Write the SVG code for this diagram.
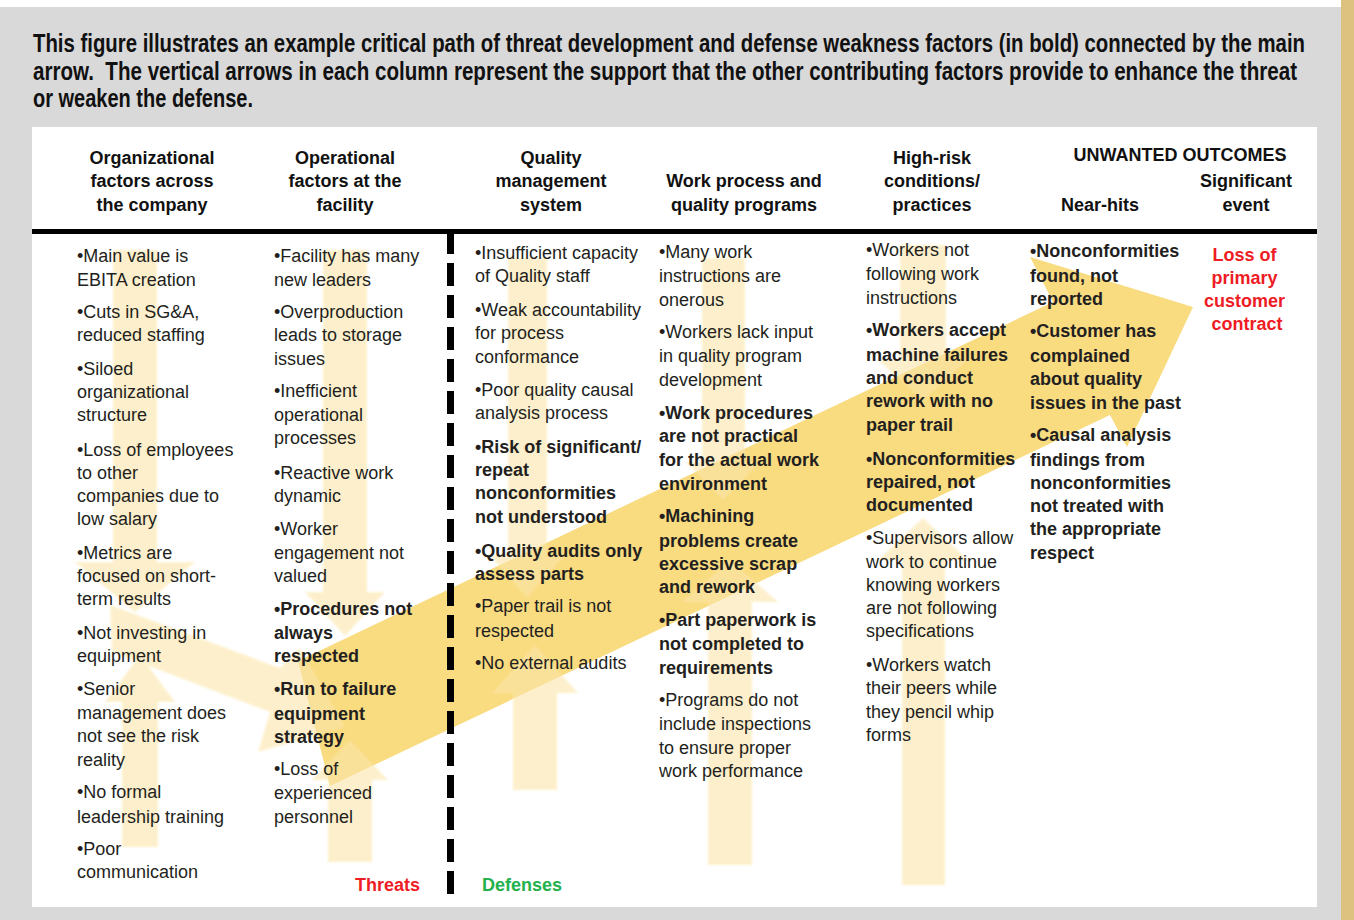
<svg xmlns="http://www.w3.org/2000/svg" width="1354" height="920" viewBox="0 0 1354 920">
  <defs>
    <style>
      .cap { font-family: "Liberation Sans", Arial, sans-serif; font-weight: bold; font-size: 25px; fill: #111; }
      .hd { font-family: "Liberation Sans", Arial, sans-serif; font-weight: bold; font-size: 18px; fill: #111; text-anchor: middle; }
      .t { font-family: "Liberation Sans", Arial, sans-serif; font-size: 18px; fill: #231f20; }
      .b { font-weight: bold; }
      .red { fill: #ee1c25; font-weight: bold; }
      .grn { fill: #22b14c; font-weight: bold; }
      .main { fill: #f9db80; }
      .sup { fill: #fce6aa; }
    </style>
    <filter id="soft" x="-5%" y="-5%" width="110%" height="110%">
      <feGaussianBlur stdDeviation="1.3"/>
    </filter>
  </defs>

  <!-- page background -->
  <rect x="0" y="0" width="1354" height="920" fill="#ffffff"/>
  <rect x="0" y="7" width="1341" height="913" fill="#d9d9d9"/>
  <rect x="1341" y="0" width="13" height="920" fill="#ddc17f"/>

  <!-- caption, set in a condensed bold by horizontal scaling -->
  <g id="caption" transform="translate(33 0) scale(0.8 1)">
    <text class="cap" x="0" y="52" textLength="1590" lengthAdjust="spacingAndGlyphs">This figure illustrates an example critical path of threat development and defense weakness factors (in bold) connected by the main</text>
    <text class="cap" x="0" y="80" textLength="1580" lengthAdjust="spacingAndGlyphs">arrow.&#160; The vertical arrows in each column represent the support that the other contributing factors provide to enhance the threat</text>
    <text class="cap" x="0" y="107" textLength="275" lengthAdjust="spacingAndGlyphs">or weaken the defense.</text>
  </g>

  <!-- chart panel -->
  <rect id="panel" x="32" y="127" width="1285" height="780" fill="#ffffff"/>

  <!-- connectors: main critical path and supporting arrows -->
  <g id="connectors">
    <polygon id="main-arrow" class="main" points="298,661 1053,302 1030,257 1193,307 1127,447 1110,415 330,786"/>
    <g id="support-arrows" opacity="0.6" filter="url(#soft)">
      <!-- organizational column -->
      <polygon class="sup" points="113,250 157,250 157,562 195,562 135,612 75,562 113,562"/>
      <polygon class="sup" points="122,847 158,847 158,702 175,702 140,655 105,702 122,702"/>
      <polygon class="sup" points="110,605 280,668 300,648 345,727 258,752 270,712 112,652"/>
      <!-- operational column -->
      <polygon class="sup" points="323,250 367,250 367,592 385,592 345,636 305,592 323,592"/>
      <polygon class="sup" points="328,862 372,862 372,780 388,780 350,740 312,780 328,780"/>
      <!-- quality management column -->
      <polygon class="sup" points="508,258 547,258 547,555 565,555 527,598 490,555 508,555"/>
      <polygon class="sup" points="513,790 557,790 557,693 578,693 535,645 492,693 513,693"/>
      <!-- work process column -->
      <polygon class="sup" points="702,258 745,258 745,462 760,462 723,500 686,462 702,462"/>
      <polygon class="sup" points="708,865 752,865 752,602 778,602 730,560 682,602 708,602"/>
      <!-- high-risk column -->
      <polygon class="sup" points="900,245 946,245 946,360 968,360 923,400 878,360 900,360"/>
      <polygon class="sup" points="902,885 945,885 945,560 968,560 923,518 878,560 902,560"/>
    </g>
  </g>

  <!-- header rule and threat/defense divider -->
  <rect x="32" y="229" width="1285" height="5" fill="#000"/>
  <line x1="450.5" y1="231" x2="450.5" y2="898" stroke="#000" stroke-width="7" stroke-dasharray="23 9"/>

  <!-- column headers -->
  <g id="headers">
    <text class="hd"><tspan x="152" y="164">Organizational</tspan><tspan x="152" y="187">factors across</tspan><tspan x="152" y="211">the company</tspan></text>
    <text class="hd"><tspan x="345" y="164">Operational</tspan><tspan x="345" y="187">factors at the</tspan><tspan x="345" y="211">facility</tspan></text>
    <text class="hd"><tspan x="551" y="164">Quality</tspan><tspan x="551" y="187">management</tspan><tspan x="551" y="211">system</tspan></text>
    <text class="hd"><tspan x="744" y="187">Work process and</tspan><tspan x="744" y="211">quality programs</tspan></text>
    <text class="hd"><tspan x="932" y="164">High-risk</tspan><tspan x="932" y="187">conditions/</tspan><tspan x="932" y="211">practices</tspan></text>
    <text class="hd" x="1180" y="161">UNWANTED OUTCOMES</text>
    <text class="hd" x="1100" y="211">Near-hits</text>
    <text class="hd"><tspan x="1246" y="187">Significant</tspan><tspan x="1246" y="211">event</tspan></text>
  </g>

  <g id="col-organizational">
    <text class="t">
      <tspan x="77" y="262">•Main value is</tspan>
      <tspan x="77" y="286">EBITA creation</tspan>
      <tspan x="77" y="318">•Cuts in SG&amp;A,</tspan>
      <tspan x="77" y="341">reduced staffing</tspan>
      <tspan x="77" y="375">•Siloed</tspan>
      <tspan x="77" y="398">organizational</tspan>
      <tspan x="77" y="421">structure</tspan>
      <tspan x="77" y="456">•Loss of employees</tspan>
      <tspan x="77" y="479">to other</tspan>
      <tspan x="77" y="502">companies due to</tspan>
      <tspan x="77" y="525">low salary</tspan>
      <tspan x="77" y="559">•Metrics are</tspan>
      <tspan x="77" y="582">focused on short-</tspan>
      <tspan x="77" y="605">term results</tspan>
      <tspan x="77" y="639">•Not investing in</tspan>
      <tspan x="77" y="662">equipment</tspan>
      <tspan x="77" y="695">•Senior</tspan>
      <tspan x="77" y="719">management does</tspan>
      <tspan x="77" y="742">not see the risk</tspan>
      <tspan x="77" y="766">reality</tspan>
      <tspan x="77" y="798">•No formal</tspan>
      <tspan x="77" y="823">leadership training</tspan>
      <tspan x="77" y="855">•Poor</tspan>
      <tspan x="77" y="878">communication</tspan>
    </text>
  </g>

  <g id="col-operational">
    <text class="t">
      <tspan x="274" y="262">•Facility has many</tspan>
      <tspan x="274" y="286">new leaders</tspan>
      <tspan x="274" y="318">•Overproduction</tspan>
      <tspan x="274" y="341">leads to storage</tspan>
      <tspan x="274" y="365">issues</tspan>
      <tspan x="274" y="397">•Inefficient</tspan>
      <tspan x="274" y="421">operational</tspan>
      <tspan x="274" y="444">processes</tspan>
      <tspan x="274" y="479">•Reactive work</tspan>
      <tspan x="274" y="502">dynamic</tspan>
      <tspan x="274" y="535">•Worker</tspan>
      <tspan x="274" y="559">engagement not</tspan>
      <tspan x="274" y="582">valued</tspan>
      <tspan class="b" x="274" y="615">•Procedures not</tspan>
      <tspan class="b" x="274" y="639">always</tspan>
      <tspan class="b" x="274" y="662">respected</tspan>
      <tspan class="b" x="274" y="695">•Run to failure</tspan>
      <tspan class="b" x="274" y="720">equipment</tspan>
      <tspan class="b" x="274" y="743">strategy</tspan>
      <tspan x="274" y="775">•Loss of</tspan>
      <tspan x="274" y="799">experienced</tspan>
      <tspan x="274" y="823">personnel</tspan>
    </text>
    <text class="t red" x="355" y="891" font-size="20">Threats</text>
  </g>

  <g id="col-quality-system">
    <text class="t">
      <tspan x="475" y="259">•Insufficient capacity</tspan>
      <tspan x="475" y="282">of Quality staff</tspan>
      <tspan x="475" y="316">•Weak accountability</tspan>
      <tspan x="475" y="339">for process</tspan>
      <tspan x="475" y="363">conformance</tspan>
      <tspan x="475" y="396">•Poor quality causal</tspan>
      <tspan x="475" y="419">analysis process</tspan>
      <tspan class="b" x="475" y="453">•Risk of significant/</tspan>
      <tspan class="b" x="475" y="476">repeat</tspan>
      <tspan class="b" x="475" y="499">nonconformities</tspan>
      <tspan class="b" x="475" y="523">not understood</tspan>
      <tspan class="b" x="475" y="557">•Quality audits only</tspan>
      <tspan class="b" x="475" y="580">assess parts</tspan>
      <tspan x="475" y="612">•Paper trail is not</tspan>
      <tspan x="475" y="637">respected</tspan>
      <tspan x="475" y="669">•No external audits</tspan>
    </text>
    <text class="t grn" x="482" y="891" font-size="20">Defenses</text>
  </g>

  <g id="col-work-process">
    <text class="t">
      <tspan x="659" y="258">•Many work</tspan>
      <tspan x="659" y="282">instructions are</tspan>
      <tspan x="659" y="306">onerous</tspan>
      <tspan x="659" y="338">•Workers lack input</tspan>
      <tspan x="659" y="362">in quality program</tspan>
      <tspan x="659" y="386">development</tspan>
      <tspan class="b" x="659" y="419">•Work procedures</tspan>
      <tspan class="b" x="659" y="442">are not practical</tspan>
      <tspan class="b" x="659" y="466">for the actual work</tspan>
      <tspan class="b" x="659" y="490">environment</tspan>
      <tspan class="b" x="659" y="522">•Machining</tspan>
      <tspan class="b" x="659" y="547">problems create</tspan>
      <tspan class="b" x="659" y="570">excessive scrap</tspan>
      <tspan class="b" x="659" y="593">and rework</tspan>
      <tspan class="b" x="659" y="626">•Part paperwork is</tspan>
      <tspan class="b" x="659" y="650">not completed to</tspan>
      <tspan class="b" x="659" y="674">requirements</tspan>
      <tspan x="659" y="706">•Programs do not</tspan>
      <tspan x="659" y="730">include inspections</tspan>
      <tspan x="659" y="754">to ensure proper</tspan>
      <tspan x="659" y="777">work performance</tspan>
    </text>
  </g>

  <g id="col-high-risk">
    <text class="t">
      <tspan x="866" y="256">•Workers not</tspan>
      <tspan x="866" y="280">following work</tspan>
      <tspan x="866" y="304">instructions</tspan>
      <tspan class="b" x="866" y="336">•Workers accept</tspan>
      <tspan class="b" x="866" y="361">machine failures</tspan>
      <tspan class="b" x="866" y="384">and conduct</tspan>
      <tspan class="b" x="866" y="407">rework with no</tspan>
      <tspan class="b" x="866" y="431">paper trail</tspan>
      <tspan class="b" x="866" y="465">•Nonconformities</tspan>
      <tspan class="b" x="866" y="488">repaired, not</tspan>
      <tspan class="b" x="866" y="511">documented</tspan>
      <tspan x="866" y="544">•Supervisors allow</tspan>
      <tspan x="866" y="568">work to continue</tspan>
      <tspan x="866" y="591">knowing workers</tspan>
      <tspan x="866" y="614">are not following</tspan>
      <tspan x="866" y="637">specifications</tspan>
      <tspan x="866" y="671">•Workers watch</tspan>
      <tspan x="866" y="694">their peers while</tspan>
      <tspan x="866" y="718">they pencil whip</tspan>
      <tspan x="866" y="741">forms</tspan>
    </text>
  </g>

  <g id="col-near-hits">
    <text class="t b">
      <tspan x="1030" y="257">•Nonconformities</tspan>
      <tspan x="1030" y="282">found, not</tspan>
      <tspan x="1030" y="305">reported</tspan>
      <tspan x="1030" y="337">•Customer has</tspan>
      <tspan x="1030" y="362">complained</tspan>
      <tspan x="1030" y="385">about quality</tspan>
      <tspan x="1030" y="409">issues in the past</tspan>
      <tspan x="1030" y="441">•Causal analysis</tspan>
      <tspan x="1030" y="466">findings from</tspan>
      <tspan x="1030" y="489">nonconformities</tspan>
      <tspan x="1030" y="512">not treated with</tspan>
      <tspan x="1030" y="535">the appropriate</tspan>
      <tspan x="1030" y="559">respect</tspan>
    </text>
  </g>

  <g id="col-significant-event">
    <text class="t red" text-anchor="middle">
      <tspan x="1247" y="261">Loss of</tspan>
      <tspan x="1247" y="284">primary</tspan>
      <tspan x="1247" y="307">customer</tspan>
      <tspan x="1247" y="330">contract</tspan>
    </text>
  </g>
</svg>
